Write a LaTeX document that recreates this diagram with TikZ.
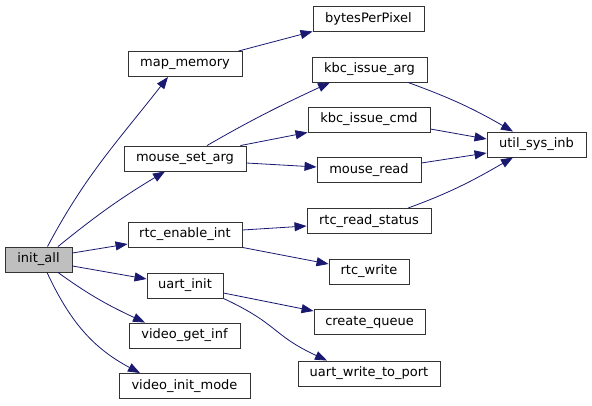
\documentclass[tikz,border=0pt]{standalone}
\usepackage{fontspec}
\setmainfont{DejaVu Sans}
\usetikzlibrary{arrows.meta}
\definecolor{edgec}{RGB}{25,25,112}
\definecolor{rootc}{RGB}{191,191,191}
\tikzset{
  fn/.style={rectangle,draw=black!80,fill=white,line width=0.9pt,minimum height=25pt,inner sep=0pt,font=\fontsize{13}{15}\selectfont},
  root/.style={fn,fill=rootc},
  call/.style={-{Triangle[length=12pt,width=9pt]},edgec,line width=0.8pt},
}

\begin{document}
\begin{tikzpicture}[x=1pt,y=1pt]
  \useasboundingbox (0,0) rectangle (592,405);
  % callers
  \node[root,minimum width=67pt] (init_all) at (38.5,145.5) {init\_all};
  \node[fn,minimum width=114pt] (map_memory) at (185,341) {map\_memory};
  \node[fn,minimum width=122pt] (mouse_set_arg) at (185,246.5) {mouse\_set\_arg};
  \node[fn,minimum width=114pt] (rtc_enable_int) at (185,170.5) {rtc\_enable\_int};
  \node[fn,minimum width=76pt] (uart_init) at (185,119.5) {uart\_init};
  \node[fn,minimum width=111pt] (video_get_inf) at (184.5,69.5) {video\_get\_inf};
  \node[fn,minimum width=131pt] (video_init_mode) at (184.5,19) {video\_init\_mode};
  % callees
  \node[fn,minimum width=111pt] (bytesPerPixel) at (368.5,386.5) {bytesPerPixel};
  \node[fn,minimum width=115pt] (kbc_issue_arg) at (369.5,335.5) {kbc\_issue\_arg};
  \node[fn,minimum width=122pt] (kbc_issue_cmd) at (369,285.5) {kbc\_issue\_cmd};
  \node[fn,minimum width=104pt] (mouse_read) at (369,235) {mouse\_read};
  \node[fn,minimum width=124pt] (rtc_read_status) at (369,184) {rtc\_read\_status};
  \node[fn,minimum width=80pt] (rtc_write) at (369,133.5) {rtc\_write};
  \node[fn,minimum width=111pt] (create_queue) at (369.5,83) {create\_queue};
  \node[fn,minimum width=142pt] (uart_write_to_port) at (369,31.5) {uart\_write\_to\_port};
  \node[fn,minimum width=99pt] (util_sys_inb) at (536.5,260.5) {util\_sys\_inb};
  % init_all calls
  \draw[call] ([xshift=9pt]init_all.north) to[out=62,in=-128] ([xshift=-17pt]map_memory.south);
  \draw[call] ([xshift=19.5pt]init_all.north) to[bend left=4] ([xshift=-20pt]mouse_set_arg.south);
  \draw[call] ([yshift=6.5pt]init_all.east) -- ([yshift=-9.5pt]rtc_enable_int.west);
  \draw[call] ([yshift=-6.5pt]init_all.east) -- ([yshift=6.5pt]uart_init.west);
  \draw[call] ([xshift=19.5pt]init_all.south) to[out=-36,in=155] ([xshift=-39.5pt]video_get_inf.north);
  \draw[call] ([xshift=8.5pt]init_all.south) to[out=-65,in=152] ([xshift=-44.5pt]video_init_mode.north);
  % second level
  \draw[call] ([xshift=-4pt]map_memory.north east) -- (bytesPerPixel.south west);
  \draw[call] ([xshift=22pt]mouse_set_arg.north) to[out=30,in=-155] ([xshift=-39.5pt]kbc_issue_arg.south);
  \draw[call] ([xshift=-6pt]mouse_set_arg.north east) -- (kbc_issue_cmd.south west);
  \draw[call] ([yshift=-4.5pt]mouse_set_arg.east) -- ([yshift=3pt]mouse_read.west);
  \draw[call] ([yshift=4.5pt]rtc_enable_int.east) -- ([yshift=-5pt]rtc_read_status.west);
  \draw[call] (rtc_enable_int.south east) -- ([yshift=7.5pt]rtc_write.west);
  \draw[call] ([yshift=-7.5pt]uart_init.east) -- ([yshift=11pt]create_queue.west);
  \draw[call] (uart_init.south east) to[out=-25,in=155,looseness=1.3] ([xshift=-42pt]uart_write_to_port.north);
  % into util_sys_inb
  \draw[call] ([xshift=38.5pt]kbc_issue_arg.south) to[out=-20,in=150] ([xshift=-23.5pt]util_sys_inb.north);
  \draw[call] ([yshift=-9.5pt]kbc_issue_cmd.east) -- ([yshift=5.5pt]util_sys_inb.west);
  \draw[call] ([yshift=7pt]mouse_read.east) -- ([yshift=-8.5pt]util_sys_inb.west);
  \draw[call] ([xshift=39pt]rtc_read_status.north) to[out=20,in=-150] ([xshift=-23.5pt]util_sys_inb.south);
\end{tikzpicture}
\end{document}
